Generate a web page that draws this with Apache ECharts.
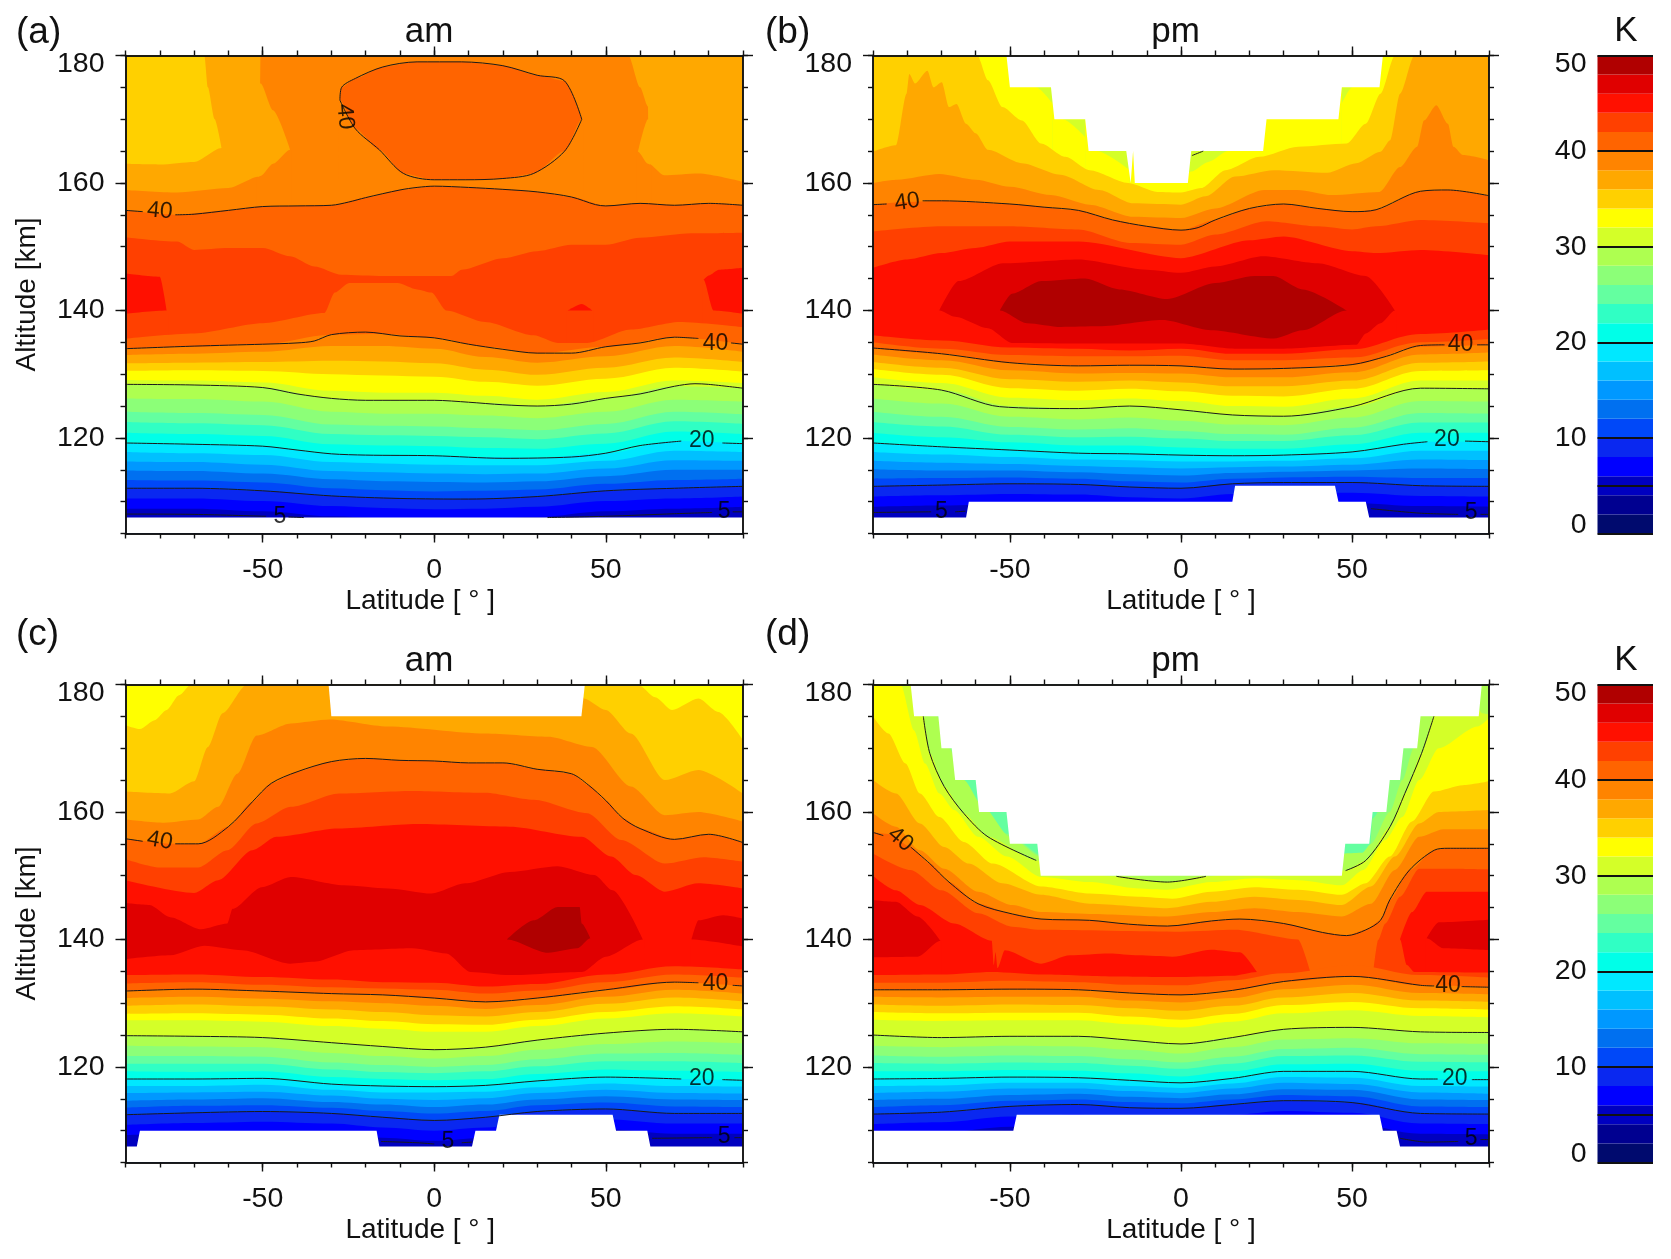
<!DOCTYPE html>
<html><head><meta charset="utf-8">
<style>html,body{margin:0;padding:0;background:#fff}#c{width:1671px;height:1259px}</style>
<script src="https://cdn.jsdelivr.net/npm/echarts@6/dist/echarts.min.js"></script>
</head><body><div id="c"></div>
<script>
// Band colours, indexed by band lower bound / 2 (K)
const bandColors=['#000a6e','#000090','#0000c0','#0000ff','#0a28f0','#0048f8','#0070f0','#0098ff','#00c0ff','#00e8ff','#00ffe8','#30ffc4','#64ffa0','#8cff78','#aeff50','#d4ff28','#ffff00','#ffd000','#ffa800','#ff8400','#ff6400','#ff4000','#ff1000','#e00000','#b00000'];
const isoValues=[5,10,20,30,40];
const xMajor=[-50,0,50];
const yMajor=[120,140,160,180];
const stations=[-90,-70,-50,-30,-15,0,15,30,50,70,90];

// Rows: [band lower bound, latitudes, altitude of the band's edge]
const aUpper=[
[36,[-90,90],[182,182]],
[34,[-90,-67,-66,-64,-62],[182,180,175,170,165.5]],
[36,[-90,-80,-70,-62,-61.6],[163,162.9,163.3,165.5,165.5]],
[38,[-90,-75,-60,-51,-50.6,-20,20,56.6,60,62.3,62.5,67,77,90],[158.9,158.5,159.2,161,182,182,182,180,175,172,163,161.2,161.5,160.2]],
[36,[-51.3,-50.6,-47,-42],[175.6,175.6,171.4,165.2]],
[38,[-51.7,-50.6,-47,-42,-41.6],[160.8,161.1,163,165.2,165.2]],
[36,[59.4,62.3,62.8],[165,170,170]],
[38,[59,59.4,62.3,63.2],[164.9,164.9,163,162.7]],
[40,[-27.5,-27,-23,-15,-5,8,20,30,38,43],[173,175,176.4,178.2,179,179,178.4,176.9,176,170]],
[38,[-27.9,-27.5,-23,-16,-9,0,9,20,29,38,43,43.4],[173,173,168.5,165.2,161.5,160.5,160.5,160.7,161.5,165,170,170]],
[40,[-90,-75,-60,-50,-30,-20,-10,0,10,20,30,40,50,60,70,80,90],[155.7,155,155.7,156.3,156.5,157.7,158.9,159.5,159.3,159,158.6,157.8,156.4,156.8,156.5,156.8,156.5]],
[42,[-90,-75,-70,-60,-50,-42,-35,-27,-15,5,8,20,30,40,50,60,75,90],[151.5,150.8,149.5,149.8,149.8,148.5,146.9,145.6,145.4,145.4,146.4,148.2,149.3,150.3,150.3,151.4,152.1,152.2]],
[44,[-90,-80,-78],[145.8,145.3,140]],
[42,[-90,-78,-77.6],[139.5,140,140]],
[44,[78.5,80,83,90],[144.8,145.5,146.4,146.7]],
[42,[78.1,78.5,81.4,90],[144.8,144.8,140,139.5]],
[44,[39,43,46],[140,141,140]],
[42,[38.6,39,46,46.4],[140,140,140,140]],
[40,[-90,-70,-50,-32,-29,-24.8,-10.7,-5,-0.8,3.5,14.8,29,36,44.6,57.3,71.5,90],[135.6,136.4,138,139.6,142.8,144.3,144.3,143.3,142.8,140,138.2,136.1,134.9,134.9,137,138.2,137.4]]
];
const aLower=[
[38,[134.0,134.3,134.7,136.2,136.3,135.7,134.3,133.3,134.3,135.8,134.7]],
[36,[133.0,133.2,133.5,134.4,134.4,134.0,132.7,131.8,132.8,134.4,133.5]],
[34,[131.7,131.8,131.9,132.1,132.0,131.7,130.7,129.9,131.0,132.6,131.9]],
[32,[130.5,130.6,130.5,130.0,129.8,129.6,128.8,128.2,129.3,131.0,130.4]],
[30,[129.1,129.0,128.7,127.4,127.1,127.1,126.6,126.0,127.2,129.0,128.6]],
[28,[128.4,128.3,127.9,126.2,125.9,125.9,125.5,125.0,126.2,128.1,127.8]],
[26,[126.2,126.1,125.7,124.1,123.8,123.8,123.5,123.1,124.1,126.0,125.7]],
[24,[124.1,123.9,123.6,122.1,121.9,121.8,121.5,121.2,122.2,124.1,123.7]],
[22,[122.5,122.3,122.0,120.6,120.4,120.3,120.1,119.8,120.7,122.6,122.2]],
[20,[120.8,120.6,120.3,119.0,118.8,118.7,118.4,118.3,119.1,121.0,120.6]],
[18,[119.2,119.0,118.7,117.5,117.3,117.2,117.0,116.9,117.6,119.5,119.1]],
[16,[117.8,117.6,117.3,116.2,116.0,115.8,115.7,115.7,116.4,118.0,117.8]],
[14,[116.3,116.2,115.8,114.8,114.6,114.4,114.3,114.4,115.2,116.5,116.4]],
[12,[114.9,114.8,114.4,113.5,113.2,113.1,113.0,113.2,114.0,115.0,115.0]],
[10,[113.4,113.3,113.0,112.1,111.8,111.6,111.7,111.9,112.8,113.4,113.6]],
[8,[112.1,112.1,111.7,110.9,110.6,110.4,110.5,110.8,111.7,112.1,112.4]],
[6,[110.5,110.5,110.1,109.3,109.0,108.8,108.9,109.2,110.1,110.5,110.8]],
[4,[108.9,108.9,108.5,107.7,107.4,107.2,107.3,107.6,108.5,108.9,109.2]]
];
const aBottomMask=[[-90,90],[107.5,107.5]];
const aTopMask=null;
const aContours=[
[[-90,155.7],[-85,155.5]],
[[-75.5,155],[-70,155.1],[-60,155.7],[-50,156.3],[-40,156.4],[-30,156.5],[-25,157],[-20,157.7],[-10,158.9],[-5,159.3],[0,159.5],[10,159.3],[20,159],[30,158.6],[40,157.8],[47,156.6],[50,156.4],[60,156.8],[70,156.5],[80,156.8],[90,156.5]],
[[-27.5,173],[-27,175],[-23,176.4],[-15,178.2],[-5,179],[8,179],[20,178.4],[30,176.9],[38,176],[43,170]],
[[-27.5,173],[-23,168.5],[-16,165.2],[-9,161.5],[0,160.5],[9,160.5],[20,160.7],[29,161.5],[38,165],[43,170]],
[[-90,134],[-70,134.4],[-50,134.7],[-40,134.9],[-35,135.2],[-30,136.2],[-20,136.6],[-10,136],[0,135.7],[10,134.7],[20,133.9],[30,133.3],[40,133.3],[50,134.3],[60,134.9],[70,135.8],[77,135.6]],
[[86.5,134.9],[90,134.7]],
[[-90,128.4],[-70,128.3],[-50,127.9],[-40,126.9],[-30,126.2],[-20,125.9],[0,125.9],[10,125.6],[20,125.2],[30,125],[40,125.3],[50,126.2],[60,126.9],[70,128.1],[76,128.5],[80,128.4],[90,127.8]],
[[-90,119.2],[-70,119],[-50,118.7],[-40,118.1],[-30,117.5],[-20,117.3],[0,117.2],[20,116.8],[40,117],[50,117.6],[60,118.8],[72,119.5]],
[[84,119.2],[90,119.1]],
[[-90,112.1],[-70,112.1],[-50,111.7],[-30,110.9],[-10,110.5],[10,110.4],[30,110.8],[50,111.7],[70,112.1],[90,112.4]],
[[-90,108.05],[-70,108],[-49,107.7]],
[[-42.5,107.6],[-38,107.5]],
[[33,107.5],[50,107.7],[70,108.1],[81,108.3]],
[[87,108.4],[90,108.4]]
];
const aLabels=[[-80,155.6,'40',-5],[-26,170.4,'40',-85],[82,134.8,'40',0],[78,119.5,'20',0],[-45,107.7,'5',0],[84.5,108.4,'5',0]];

const bUpper=[
[32,[-90,90],[182,182]],
[30,[-42.3,-37.5],[175,175]],[32,[-42.7,-42.3,-37.5],[175,175,172.4]],
[30,[-34.5,-28],[170,170]],[32,[-34.9,-34.5,-28],[170,170,167.2]],
[30,[-24.6,-15],[165,165]],[32,[-25,-24.6,-15],[165,165,162]],
[30,[2,13.7],[165,165]],[32,[2,3,8,13.7,14.1],[161.5,161.8,163.3,165,165]],
[30,[47,50],[175,175]],[32,[47,50,50.4],[172.5,175,175]],
[34,[-90,-59.5,-56.4,-52.2,-46.5,-40.9,-33.8,-26.7,-15.4,-6.9,0,5.9,13,22.9,34.2,48.4,54,58.3,62.5,90],[182,180,176.1,171.9,169.8,166.2,164.1,162,160,158.6,158.5,159.2,162,164.1,165.7,166.2,169.3,174,180,182]],
[36,[-90,-83.3,-80.2,-79.4,-77.7,-74.1,-72.3,-69.9,-67.8,-65.6,-62.8,-60,-56.4,-46.5,-35.2,-23.9,-14,0,7.2,15.8,27.1,42.7,51.2,58.3,61.1,64,68.2,90],[164.9,165.9,174,177.1,175.6,177.6,175,175.8,171.9,172.4,169.3,167.8,165.2,163.1,161.3,158.9,156.8,156.6,157.9,161,162,161.6,163.1,164.9,166.7,174,180,182]],
[38,[-90,-83,-70.6,-60,-50,-38,-26.7,-14,0,10,24.3,34,44,58,64,69,71,74.6,78,79.6,82.4,90],[160,160.5,161.4,160.5,159.4,158.1,156.6,154.7,154.5,156,158.9,158.9,158.1,158.6,162.5,165.7,169.8,172.2,169.3,165.7,164.4,163.6]],
[40,[-90,-80,-70,-50,-30,-20,-10,0,10,20,30,40,50,57,70,78,90],[156.6,157,157.2,156.7,155.7,154.2,153.2,152.6,154.2,156,156.7,156,155.5,155.8,158.7,158.9,158]],
[42,[-90,-70,-50,-30,-15,0,10,25,40,50,57,70,90],[152.4,153.2,153.2,152.7,150.6,150.3,151.9,154,153.2,152.7,153.2,154.2,153.7]],
[44,[-90,-80,-70,-60,-50,-30,0,20,30,50,57,70,90],[146.7,148,149,149.8,150.8,150.8,148.2,151,151.6,149.3,149,149.5,148.7]],
[46,[-70.6,-65,-52,-30,-10,0,10,24,40,54,62.5],[140,144.6,147.4,148,146.4,145.9,146.9,148.5,147.4,145.4,140]],
[48,[-52.9,-49.4,-40.8,-28,-18,-4,10,21.5,27,35.6,48.4],[140,142.6,144.6,145,143.3,141.8,144.3,145.4,145.4,143.3,140]],
[46,[-53.3,-52.9,-45,-35,-24,-5.4,8.7,27,35.6,48.4,48.8],[140,140,138,137.4,137.5,138.5,136.9,135.6,136.9,140,140]],
[44,[-71,-70.6,-66,-56.4,-49.4,-26.7,0,15.8,30,51.2,54,58.3,62.5,62.9],[140,140,139,137.2,134.9,134.8,134.8,134,134,134.6,136.4,138,140,140]]
];
const bLower=[
[42,[136.1,135.3,134.2,134,133.7,134,133.2,133.2,133.9,136.3,137]],
[40,[135,134,133,132.8,132.8,132.9,132.2,132.2,132.6,135,135.5]],
[38,[134.1,133.2,131.8,131.3,131.4,131.3,130.8,130.9,131.5,134.3,134.6]],
[36,[133.1,132.2,130.6,130.1,130.2,130.1,129.5,129.5,130.3,133.1,133.4]],
[34,[131.9,131.0,129.2,128.8,129.0,128.7,128.1,128.1,129.0,131.8,132.0]],
[32,[130.8,129.9,127.8,127.4,127.7,127.3,126.6,126.5,127.7,130.5,130.6]],
[30,[129.5,128.6,126.3,125.9,126.2,125.8,125,124.9,126.2,129,129]],
[28,[128.4,127.5,125,124.6,125,124.4,123.6,123.4,124.9,127.8,127.7]],
[26,[126.2,125.4,123.3,122.9,123.2,122.7,122.1,122.0,123.2,125.8,125.7]],
[24,[124.1,123.3,121.7,121.3,121.5,121.1,120.6,120.5,121.6,123.9,123.8]],
[22,[122.5,121.8,120.5,120.1,120.2,119.9,119.5,119.5,120.4,122.4,122.4]],
[20,[120.8,120.1,119.3,118.8,118.8,118.5,118.3,118.3,119.0,120.8,120.8]],
[18,[119.2,118.6,118.1,117.6,117.5,117.3,117.2,117.3,117.8,119.4,119.4]],
[16,[117.8,117.4,117.0,116.6,116.5,116.3,116.3,116.4,116.8,118.0,118.0]],
[14,[116.4,116.1,115.9,115.6,115.4,115.2,115.4,115.5,115.8,116.6,116.5]],
[12,[115.1,114.9,114.9,114.6,114.3,114.1,114.5,114.7,114.9,115.2,115.1]],
[10,[113.6,113.7,113.8,113.6,113.2,113.0,113.6,113.8,113.9,113.7,113.7]],
[8,[112.4,112.6,112.8,112.7,112.3,112.1,112.8,113,113,112.5,112.4]],
[6,[110.8,111,111.2,111.1,110.7,110.5,111.2,111.4,111.4,110.9,110.8]],
[4,[109.2,109.4,109.6,109.5,109.1,108.9,109.6,109.8,109.8,109.3,109.2]]
];
const bBottomMask=[[-90,-62.8,-62,15,15.8,45,46,54,55,90],[107.5,107.5,110,110,112.5,112.5,110,110,107.5,107.5]];
const bTopMask=[[-51,-50,-38,-37,-28,-27,-16,-14.7,-14,-13.5,-13,2,3,24,25,46,47,58,59],[180,175,175,170,170,165,165,160,165,160,160,160,165,165,170,170,175,175,180]];
const bContours=[
[[-90,156.6],[-86,156.7]],
[[-75.5,157.2],[-70,157.2],[-50,156.7],[-40,156.2],[-30,155.7],[-20,154.2],[-10,153.2],[0,152.6],[5,153],[10,154.2],[20,156],[30,156.7],[40,156],[50,155.5],[57,155.8],[70,158.7],[78,158.9],[90,158]],
[[3.2,164.3],[6.5,165]],
[[-90,134.1],[-70,133.2],[-50,131.8],[-30,131.3],[-15,131.4],[0,131.3],[15,130.8],[30,130.9],[50,131.5],[60,132.8],[70,134.5],[77,134.6]],
[[86.5,134.6],[90,134.6]],
[[-90,128.4],[-70,127.5],[-53,124.9],[-30,124.6],[-15,125],[0,124.4],[15,123.6],[30,123.4],[50,124.9],[70,127.8],[90,127.7]],
[[-90,119.2],[-70,118.6],[-50,118.1],[-30,117.6],[-15,117.5],[0,117.3],[15,117.2],[30,117.3],[50,117.8],[65,119],[72,119.4]],
[[83,119.5],[90,119.4]],
[[-90,112.4],[-70,112.6],[-50,112.8],[-30,112.7],[-15,112.3],[0,112.1],[15,112.8],[30,113],[50,113],[70,112.5],[90,112.4]],
[[-90,108.3],[-73,108.4]],
[[-66,108.4],[-63,108.5]],
[[55.5,108.9],[69.6,108.2],[81,108]],
[[87.5,108],[90,108]]
];
const bLabels=[[-80,157,'40',8],[81.7,134.6,'40',0],[77.7,119.7,'20',0],[-70,108.4,'5',0],[84.8,108.2,'5',0]];

const cUpper=[
[32,[-90,90],[182,182]],
[34,[-90,-85.8,-81.5,-78,-74.4,-70.9,59.4,64.4,69.3,77,82.8,90],[173.6,173,174.4,176,178.3,180,180,178,176,177.8,175.7,171.3]],
[36,[-90,-77,-70,-66,-61.7,-54.6,0,42,43.6,50,57.3,67.2,77,90],[163.2,162.9,164.8,170.2,175.5,180,182,182,177.8,176,172.3,165,166.6,162.9]],
[38,[-90,-78.7,-68.8,-63,-57.4,-51.8,-41.8,-30.5,-13.5,14.8,33.2,46,57.3,67.2,77,90],[158.8,158.3,158.8,160.8,166,172,173.9,174.5,173.4,172.3,171.8,170.2,164,159.5,160,158.5]],
[40,[-90,-75.5,-68.8,-60,-53,-47.5,-40,-30,-20,-10,0,10,20,30,40,45,50,55,60,70,80,90],[155.8,155,155,157.7,161.6,164.5,166.3,167.9,168.4,168.1,168,167.7,167.7,166.7,166,164.2,161.8,159,157.4,155.7,156.5,155.2]],
[42,[-90,-80,-68.8,-60.3,-51.8,-41.8,-27.7,-6.4,14.8,29,44.6,54.5,67.2,78.6,90],[152.6,151.3,151.3,154,158.2,160.8,162.9,163.3,163,161.9,159.8,155.6,151.9,152.9,152.2]],
[44,[-90,-70,-63,-53,-46,-28,-5,22,43,51.6,58.7,67.2,77,90],[149.3,147.3,149.3,154,156.1,157.4,158.1,157.7,156.1,153,150.1,147.5,148.8,148]],
[46,[-90,-83,-77,-68,-60.3,-58.8,-50.3,-41.8,-26.3,-13.5,-0.8,9,22,36,46.7,52,60.8],[145.7,145.4,143.5,141.6,142.5,144.8,148.2,149.8,148.5,148,147.2,148.8,150.6,151.5,150.1,147.7,140]],
[46,[75,77,84.2,90],[140,143,143.8,143.3]],
[48,[21.2,29,36,42.4,43,45.5],[140,143,145.1,145.1,142.5,140.2]],
[46,[20.8,21.2,33.2,41.7,45.5,45.9],[140,140,137.9,138.6,140.2,140.2]],
[44,[-90,-77,-67,-56,-42,-35,-23.4,-6.4,3.5,10.6,22,43,50,60.8,61.2],[136.9,137.5,139,138.3,136.2,136.5,138.3,138.6,137.8,134.9,134.4,134.9,137.3,140,140]],
[44,[74.6,75,90],[140,140,138.9]]
];
const cLower=[
[42,[134.4,134.5,134.1,133.7,133.3,133.2,132.6,133,134.5,135.8,135.3]],
[40,[133.1,133.3,132.9,132.5,132.3,132.1,131.5,132,133.3,134.5,134]],
[38,[131.9,132.2,131.9,131.5,131.3,130.8,130.2,130.8,132.1,133.3,132.7]],
[36,[130.8,131,130.7,130.3,130,129.6,129.1,129.7,131,132.1,131.5]],
[34,[129.6,129.8,129.5,129,128.6,128.1,127.9,128.6,129.9,130.9,130.3]],
[32,[128.3,128.4,128.2,127.6,127.2,126.7,126.6,127.4,128.6,129.5,129]],
[30,[127.3,127.3,127.1,126.4,126,125.5,125.5,126.4,127.6,128.4,127.9]],
[28,[124.9,124.8,124.6,123.8,123.2,122.7,123.1,124.2,125.3,125.9,125.5]],
[26,[123.3,123.2,123.1,122.2,121.7,121.3,121.7,122.7,123.6,124,123.7]],
[24,[121.7,121.7,121.6,120.7,120.3,120,120.3,121.2,122.1,122.2,121.9]],
[22,[120.5,120.5,120.5,119.6,119.2,119,119.3,120.1,120.9,120.9,120.6]],
[20,[119.3,119.2,119.3,118.4,118.1,117.9,118.1,118.9,119.6,119.4,119.2]],
[18,[118.1,118.1,118.2,117.3,117,116.9,117.1,117.8,118.4,118.1,117.9]],
[16,[117,117,117.2,116.4,116,116,116.1,116.8,117.4,117,116.9]],
[14,[115.9,116,116.1,115.5,115,114.8,115.1,115.9,116.4,115.9,115.8]],
[12,[114.7,114.9,115.1,114.5,114.1,113.7,114.1,114.9,115.4,114.9,114.8]],
[10,[113.6,113.9,114,113.6,113.1,112.7,113.1,114,114.4,113.8,113.7]],
[8,[112.5,112.8,113,112.7,112.1,111.6,112.1,113,113.4,112.7,112.7]],
[6,[110.9,111.2,111.4,111.1,110.5,110,110.5,111.4,111.8,111.1,111.1]],
[4,[109.3,109.6,109.8,109.5,108.9,108.4,108.9,109.8,110.2,109.5,109.5]]
];
const cBottomMask=[[-90,-86.7,-85.8,-16.8,-16,11,12,18,19,52,53,62.1,63,90],[107.5,107.5,110,110,107.5,107.5,110,110,112.5,112.5,110,110,107.5,107.5]];
const cTopMask=[[-30.8,-30,42.9,43.9],[180,175,175,180]];
const cContours=[
[[-90,155.8],[-85,155.4]],
[[-75.5,155],[-68.8,155],[-60,157.7],[-53,161.6],[-47.5,164.5],[-40,166.3],[-30,167.9],[-20,168.4],[-10,168.1],[0,168],[10,167.7],[20,167.7],[30,166.7],[40,166],[45,164.2],[50,161.8],[55,159],[60,157.4],[70,155.7],[80,156.5],[90,155.2]],
[[-90,131.9],[-70,132.2],[-50,131.9],[-30,131.5],[-15,131.3],[0,130.8],[15,130.2],[30,130.8],[50,132.1],[70,133.3],[77,133.2]],
[[87,132.8],[90,132.7]],
[[-90,124.9],[-70,124.8],[-50,124.6],[-30,123.8],[-15,123.2],[0,122.7],[15,123.1],[30,124.2],[50,125.3],[70,125.9],[90,125.5]],
[[-90,118.1],[-70,118.1],[-50,118.2],[-30,117.3],[-15,117],[0,116.9],[15,117.1],[30,117.8],[50,118.4],[72,118.1]],
[[84,118],[90,117.9]],
[[-90,112.5],[-70,112.8],[-50,113],[-30,112.7],[-15,112.1],[0,111.6],[15,112.1],[30,113],[50,113.4],[70,112.7],[90,112.7]],
[[-15.5,108.3],[-5,108.1],[0,107.9]],
[[8,108.1],[11,108.2]],
[[63.5,108.8],[81,108.9]],
[[87.5,108.9],[90,108.9]]
];
const cLabels=[[-80,155.5,'40',-10],[82,133,'40',0],[78,118.1,'20',0],[4,108.2,'5',0],[84.5,109,'5',0]];

const dUpper=[
[24,[-90,90],[182,182]],
[26,[-90,-67,-66,-60,-50.8,-40,0,40,55,56,60,61,64.7,66,90],[182,182,165,160.5,156.6,153,153,153,153,159,162,165,170,182,182]],
[28,[-90,-73,-71.3,-67.8,-63.5,-57.8,-50,-41,-20,0,20,48,53,55.5,61,64.7,68,70,72,90],[182,182,175,170,165,160.8,156.1,153,151,151,151,153.5,153.6,155,160,165,170,175,182,182]],
[30,[-90,-77,-75.3,-73.4,-69.2,-63.5,-56.4,-42.3,-30,-19,-4,7.3,20,40,48.1,54,61.1,65.4,70.3,73.9,75.5,87,88,90],[182,180,175,169.2,164,159.8,156.1,152.4,150.5,149.9,149,149.9,150.5,150.5,150.8,152.4,157.7,162.9,169.2,175,176,176,175.5,175.3]],
[32,[-90,-81.9,-78,-74.8,-70.6,-66.3,-59.3,-50.8,-40.9,-26.7,-12.5,-4,8.9,21.5,34.2,47,53.3,59.7,64.7,69.6,75.3,86.6,90],[182,180,172.8,167.6,162.9,160.3,156.1,153,149.8,149,148,147.8,149,149.6,149.3,148.5,150.9,155.6,159.2,165,170,173.4,174.7]],
[34,[-90,-85.5,-80.5,-76.3,-70.6,-63.5,-55,-40.9,-26.7,-12.5,-2.6,8.9,21.5,34.2,47,54,61,67.5,73.9,82.4,90],[175,172.3,167.6,162.9,159.2,155.3,151.9,148.3,147.2,146.7,146.4,147.5,148.2,147.8,147,148.8,153,158.5,163.2,164.2,164.8]],
[36,[-90,-83.3,-76.3,-69.2,-62.1,-52.2,-40.9,-26.7,-4,8.9,21.5,34.2,47,55.5,62.5,69.6,75.3,90],[165,162.9,158.2,154.5,151.9,148.8,147,145.6,144.9,145.9,146.7,146.2,145.4,148.3,153,158.2,160,160.3]],
[38,[-90,-83.3,-76.3,-69.2,-59.3,-49.3,-40.9,-26.7,-4,8.9,21.5,34.2,47,55.5,62.5,69.6,76.7,90],[159.8,157.7,154,151.1,147.5,145.4,144.3,144,143.6,144.3,144.9,144.3,143.6,145.6,150.9,156.1,157.3,157.3]],
[40,[-90,-85,-79,-73.4,-67.8,-59.3,-49.3,-40.9,-26.7,-15.4,-4,8.9,17.2,30,41.3,48.4,54,58.3,61,66.8,74,78,90],[156.8,156.5,154.5,151.9,149,145.6,144,143.2,143,142.4,142.1,142.9,143.2,142.5,141.1,140.6,141.5,143,146.2,150.9,154,154.3,154.3]],
[42,[-90,-79,-70,-59.3,-49.3,-41,0,15.8,34.2,37.8],[153.5,150.9,147.7,144.1,142,141.5,141.2,141.5,140,134.9]],
[42,[56.2,57.6,59.7,64,69.6,79.5,90],[135,139.9,142.5,146.7,151.1,151.1,151]],
[44,[-90,-83.3,-76.3,-66.3,-55.3,-54.7,-54.2,-53.6,-51.5,-40.9,-32.4,-21,-12.5,-2.6,8.9,17.2,22.2],[150,147.7,145.4,142.5,139.8,136,138,135.5,138.3,136.2,137.5,137.8,137.5,137.3,138.4,138,134.9]],
[44,[64,67.5,71.8,90],[140,144.3,147.5,147.5]],
[46,[-90,-83.3,-77,-70.3],[146.2,145.9,143.6,139.8]],
[46,[71.8,75.3,90],[140.2,142.7,143.1]],
[44,[-90,-77,-70.3,-69.9],[137.2,137.3,139.8,139.8]],
[44,[71.4,71.8,76.7,90],[140.2,140.2,138.6,138.3]],
[42,[-90,-70,-55.3,-40,-20,0,15,22.2,22.6],[134.4,134.5,134.9,134.5,134.2,134.1,134.3,134.9,134.9]],
[42,[63.6,64,66,68.2,90],[140,140,136,134.9,134.8]]
];
const dLower=[
[40,[133.2,133.2,133.5,133.3,132.9,132.8,133.6,134.7,136,134.4,134]],
[38,[132.1,132.1,132.2,132.1,131.6,131.3,132,133.4,134.2,132.8,132.5]],
[36,[131,130.9,131,131,130.4,130.1,130.8,132.2,132.9,131.6,131.4]],
[34,[129.8,129.6,129.8,129.7,129.2,128.8,129.6,130.9,131.6,130.4,130.2]],
[32,[128.6,128.4,128.5,128.5,127.9,127.4,128.3,129.7,130.2,129.2,129]],
[30,[127.4,127.2,127.3,127.3,126.7,126.2,127.1,128.4,128.9,128,127.8]],
[28,[125,124.6,124.8,124.8,124.2,123.6,124.6,125.9,126.2,125.5,125.4]],
[26,[123.3,123.1,123.3,123.2,122.7,122.1,123.1,124.3,124.5,123.7,123.6]],
[24,[121.8,121.6,121.8,121.7,121.2,120.7,121.6,122.8,123,122,121.9]],
[22,[120.6,120.5,120.7,120.6,120.2,119.7,120.5,121.7,121.8,120.8,120.7]],
[20,[119.3,119.3,119.5,119.4,119,118.5,119.3,120.4,120.5,119.4,119.3]],
[18,[118.1,118.2,118.4,118.3,117.9,117.5,118.2,119.3,119.3,118.1,118]],
[16,[117,117.1,117.5,117.5,117,116.7,117.4,118.4,118.3,117,116.9]],
[14,[115.9,116.1,116.6,116.6,116.2,115.9,116.6,117.5,117.3,116,115.8]],
[12,[114.8,115,115.6,115.8,115.3,115.1,115.7,116.5,116.4,114.9,114.8]],
[10,[113.7,114,114.7,114.9,114.5,114.3,114.9,115.6,115.4,113.8,113.7]],
[8,[112.6,112.9,113.8,114.1,113.6,113.5,114.1,114.7,114.4,112.7,112.6]],
[6,[111,111.3,112.2,112.5,112,111.9,112.5,113.1,112.8,111.1,111]],
[4,[109.4,109.7,110.6,110.9,110.4,110.3,110.9,111.5,111.2,109.5,109.4]]
];
const dBottomMask=[[-90,-49,-48,58,59,63,64,90],[110,110,112.5,112.5,110,110,107.5,107.5]];
const dTopMask=[[-79,-78,-70.9,-70,-67,-66,-60,-59,-51,-50,-42,-41,47,48,55,56,60,61,64,65,69,70,87,87.9],[180,175,175,170,170,165,165,160,160,155,155,150,150,155,155,160,160,165,165,170,170,175,175,180]];
const dContours=[
[[-90,156.8],[-87,156.3]],
[[-79,154.5],[-73.4,151.9],[-67.8,149],[-59.3,145.6],[-49.3,144],[-40.9,143.2],[-26.7,143],[-15.4,142.4],[-4,142.1],[8.9,142.9],[17.2,143.2],[30,142.5],[41.3,141.1],[48.4,140.6],[54,141.5],[58.3,143],[61,146.2],[66.8,150.9],[74,154],[78,154.3],[90,154.3]],
[[-75.3,175],[-73.4,169.2],[-69.2,164],[-63.5,159.8],[-56.4,156.1],[-42.3,152.4]],
[[-18.9,149.9],[-4,149],[7.3,149.9]],
[[48.1,150.8],[54,152.4],[61.1,157.7],[65.4,162.9],[70.3,169.2],[73.9,175]],
[[-90,132.1],[-70,132.1],[-50,132.2],[-30,132.1],[-15,131.6],[0,131.3],[15,132],[30,133.4],[50,134.2],[70,132.8],[74,132.7]],
[[82,132.6],[90,132.5]],
[[-90,125],[-70,124.6],[-50,124.8],[-30,124.8],[-15,124.2],[0,123.6],[15,124.6],[30,125.9],[50,126.2],[70,125.5],[90,125.4]],
[[-90,118.1],[-70,118.2],[-50,118.4],[-30,118.3],[-15,117.9],[0,117.5],[15,118.2],[30,119.3],[50,119.3],[70,118.1],[75,118.1]],
[[85,118],[90,118]],
[[-90,112.6],[-70,112.9],[-50,113.8],[-30,114.1],[-15,113.6],[0,113.5],[15,114.1],[30,114.7],[50,114.4],[70,112.7],[90,112.6]],
[[64,108.8],[72,108.2],[81,108.3]],
[[87.5,108.6],[90,108.6]]
];
const dLabels=[[-82,155.7,'40',-40],[78,132.8,'40',0],[80,118.1,'20',0],[84.8,108.7,'5',0]];

const FONT='"Liberation Sans"', INK='#111111';
const grids=[],xAxes=[],yAxes=[],series=[];
const base={type:'value',splitLine:{show:false},z:10,silent:true};
const lineS={onZero:false,lineStyle:{color:INK,width:1.5}};
const tickS={lineStyle:{color:INK,width:1.4}};

function addAxes(g,shift,leftName){
  const mk=(arr,o)=>arr.push(Object.assign({},base,{gridIndex:g},o));
  const xBase={min:-90,max:90,interval:10,axisLine:lineS};
  const xIdx=xAxes.length;
  mk(xAxes,Object.assign({},xBase,{position:'bottom',axisTick:Object.assign({length:5},tickS),
    axisLabel:{fontFamily:FONT,fontSize:28.5,color:INK,margin:22,formatter:v=>xMajor.includes(v)?String(v):''},
    name:'Latitude [ ° ]',nameLocation:'middle',nameGap:54,nameTextStyle:{fontFamily:FONT,fontSize:28,color:INK,verticalAlign:'top',padding:[0,shift,0,0]}}));
  mk(xAxes,Object.assign({},xBase,{position:'bottom',axisTick:Object.assign({length:9,customValues:xMajor},tickS),axisLabel:{show:false}}));
  mk(xAxes,Object.assign({},xBase,{position:'top',axisTick:Object.assign({length:5},tickS),axisLabel:{show:false}}));
  mk(xAxes,Object.assign({},xBase,{position:'top',axisTick:Object.assign({length:9,customValues:xMajor},tickS),axisLabel:{show:false}}));
  const yBase={min:105,max:180,interval:5,axisLine:lineS};
  const yIdx=yAxes.length;
  const yOpt={position:'left',axisTick:Object.assign({length:5},tickS),
    axisLabel:{fontFamily:FONT,fontSize:28.5,color:INK,margin:21,
      formatter:v=>v===180?'{t|180}':(yMajor.includes(v)?String(v):''),
      rich:{t:{fontFamily:FONT,fontSize:28.5,color:INK,padding:[17,0,0,0]}}}};
  if(leftName)Object.assign(yOpt,{name:'Altitude [km]',nameLocation:'middle',nameRotate:90,nameGap:84,nameTextStyle:{fontFamily:FONT,fontSize:28,color:INK}});
  mk(yAxes,Object.assign({},yBase,yOpt));
  mk(yAxes,Object.assign({},yBase,{position:'left',axisTick:Object.assign({length:10,customValues:yMajor},tickS),axisLabel:{show:false}}));
  mk(yAxes,Object.assign({},yBase,{position:'right',axisTick:Object.assign({length:5},tickS),axisLabel:{show:false}}));
  mk(yAxes,Object.assign({},yBase,{position:'right',axisTick:Object.assign({length:10,customValues:yMajor},tickS),axisLabel:{show:false}}));
  return [xIdx,yIdx];
}
function fill(ix,iy,band,lats,alts,smooth,origin,color){
  series.push({type:'line',xAxisIndex:ix,yAxisIndex:iy,data:lats.map((x,i)=>[x,alts[i]]),
    smooth:smooth,smoothMonotone:'x',showSymbol:false,symbol:'none',silent:true,z:2,
    lineStyle:{width:0,opacity:0},areaStyle:{color:color||bandColors[band/2],opacity:1,origin:origin||'start'}});
}
function panel(left,width,top,upper,lower,bottom,topMask,contours,labels,shift,leftName){
  const g=grids.length;
  grids.push({left:left,top:top,width:width,height:478,containLabel:false});
  const [ix,iy]=addAxes(g,shift,leftName);
  upper.forEach(r=>fill(ix,iy,r[0],r[1],r[2],0.25));
  lower.forEach(r=>fill(ix,iy,r[0],stations,r[1],0.35));
  fill(ix,iy,0,bottom[0],bottom[1],false,'start','#ffffff');
  if(topMask)fill(ix,iy,0,topMask[0],topMask[1],false,'end','#ffffff');
  contours.forEach(c=>series.push({type:'line',xAxisIndex:ix,yAxisIndex:iy,data:c,smooth:0.3,showSymbol:false,symbol:'none',silent:true,z:3,
    lineStyle:{color:'#1a1a1a',width:1}}));
  series.push({type:'scatter',xAxisIndex:ix,yAxisIndex:iy,symbolSize:1,silent:true,z:4,itemStyle:{color:'rgba(0,0,0,0)'},
    data:labels.map(l=>({value:[l[0],l[1]],label:{show:true,position:'inside',formatter:l[2],rotate:l[3],fontFamily:FONT,fontSize:23,color:'#000'}}))});
}
panel(125.5,617.5,55.5,aUpper,aLower,aBottomMask,aTopMask,aContours,aLabels,28,true);
panel(873,616,55.5,bUpper,bLower,bBottomMask,bTopMask,bContours,bLabels,0,false);
panel(125.5,617.5,684.5,cUpper,cLower,cBottomMask,cTopMask,cContours,cLabels,28,true);
panel(873,616,684.5,dUpper,dLower,dBottomMask,dTopMask,dContours,dLabels,0,false);

function colorbar(top){
  const g=grids.length;
  grids.push({left:1597.5,top:top,width:55.5,height:478});
  const ix=xAxes.length,iy=yAxes.length;
  xAxes.push({type:'category',gridIndex:g,data:['K'],show:false,boundaryGap:true});
  const yb={type:'value',gridIndex:g,min:0,max:50,interval:1,splitLine:{show:false},z:10,silent:true,
    axisLine:{onZero:false,lineStyle:{color:'#777',width:1}}};
  yAxes.push(Object.assign({},yb,{position:'left',axisTick:{length:2,lineStyle:{color:'#222',width:1.3}},
    axisLabel:{fontFamily:FONT,fontSize:28.5,color:INK,margin:11,
      formatter:v=>v===50?'{t|50}':(v===0?'{b|0}':(v%10===0?String(v):'')),
      rich:{t:{fontFamily:FONT,fontSize:28.5,color:INK,padding:[17,0,0,0]},b:{fontFamily:FONT,fontSize:28.5,color:INK,padding:[0,0,17,0]}}}}));
  yAxes.push(Object.assign({},yb,{position:'right',axisTick:{length:2,lineStyle:{color:'#222',width:1.3}},axisLabel:{show:false}}));
  yAxes.push(Object.assign({},yb,{position:'left',axisTick:{length:4,customValues:[0,50].concat(isoValues),lineStyle:{color:'#111',width:2}},axisLabel:{show:false}}));
  yAxes.push(Object.assign({},yb,{position:'right',axisTick:{length:4,customValues:[0,50].concat(isoValues),lineStyle:{color:'#111',width:2}},axisLabel:{show:false}}));
  bandColors.forEach((c,i)=>{
    const s={type:'bar',xAxisIndex:ix,yAxisIndex:iy,stack:'cb'+g,data:[2],barWidth:'100%',silent:true,z:2,itemStyle:{color:c}};
    if(i===bandColors.length-1){
      s.markLine={silent:true,symbol:'none',label:{show:false},lineStyle:{color:'#111',width:2,type:'solid'},
        data:[0,50].concat(isoValues).map(v=>({yAxis:v}))};
    }
    series.push(s);
  });
}
colorbar(55.5);colorbar(684.5);

const titles=[];
[['am',424,10],['pm',1170.5,10],['K',1621,9],['am',424,639],['pm',1170.5,639],['K',1621,638]].forEach(t=>
  titles.push({text:t[0],left:t[1],top:t[2],textAlign:'center',textStyle:{fontFamily:FONT,fontSize:35,fontWeight:'normal',color:INK}}));
[['(a)',11,9],['(b)',760,9],['(c)',11,611],['(d)',760,611]].forEach(t=>
  titles.push({text:t[0],left:t[1],top:t[2],textStyle:{fontFamily:FONT,fontSize:37,fontWeight:'normal',color:INK}}));

const chart=echarts.init(document.getElementById('c'),null,{renderer:'canvas',width:1671,height:1259});
chart.setOption({animation:false,backgroundColor:'#fff',title:titles,grid:grids,xAxis:xAxes,yAxis:yAxes,series:series});
</script></body></html>
